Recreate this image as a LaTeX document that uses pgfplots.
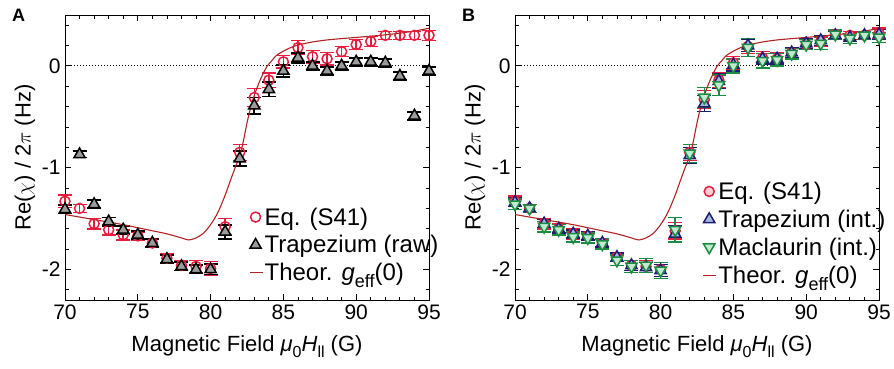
\documentclass[border=0pt]{standalone}
\usepackage{fontspec}
\setmainfont{Liberation Sans}
\usepackage{pgfplots}
\pgfplotsset{compat=1.18}
\usepackage{pgfplotstable}

\definecolor{cred}{RGB}{232,30,62}
\definecolor{tred}{RGB}{178,34,34}
\definecolor{tgray}{RGB}{155,155,155}
\definecolor{navy}{RGB}{28,28,112}
\definecolor{lblue}{RGB}{165,185,222}
\definecolor{cgreen}{RGB}{28,140,66}
\definecolor{lgreen}{RGB}{195,232,208}
\definecolor{lpink}{RGB}{250,205,215}

\newcommand\lf{\fontsize{24}{29}\selectfont}
\newcommand\sub[1]{\raisebox{-7pt}{\fontsize{18}{18}\selectfont #1}}

\pgfplotstableread{
x   c      ce    t      te
70 -1.33  0.06 -1.41  0.04
71 -1.40  0.04 -0.87  0.03
72 -1.55  0.05 -1.36  0.04
73 -1.61  0.05 -1.53  0.04
74 -1.66  0.05 -1.61  0.04
75 -1.67  0.04 -1.66  0.04
76 -1.74  0.04 -1.74  0.04
77 -1.89  0.04 -1.90  0.04
78 -1.96  0.05 -1.97  0.04
79 -1.97  0.06 -2.00  0.04
80 -1.99  0.07 -2.00  0.05
81 -1.58  0.08 -1.63  0.07
82 -0.85  0.08 -0.91  0.07
83 -0.31  0.09 -0.39  0.08
84 -0.14  0.07 -0.23  0.07
85  0.04  0.06 -0.05  0.06
86  0.18  0.07  0.08  0.05
87  0.09  0.06  0.00  0.04
88  0.07  0.06 -0.05  0.04
89  0.14  0.05  0.00  0.04
90  0.21  0.05  0.04  0.04
91  0.24  0.05  0.04  0.04
92  0.30  0.04  0.03  0.04
93  0.30  0.04 -0.10  0.04
94  0.30  0.04 -0.49  0.04
95  0.30  0.05 -0.05  0.04
}\dataA

\pgfplotstableread{
x   c      ce    b      be    g      ge
70 -1.33  0.05 -1.34  0.04 -1.36  0.05
71 -1.40  0.04 -1.40  0.04 -1.40  0.04
72 -1.55  0.05 -1.55  0.04 -1.58  0.05
73 -1.60  0.05 -1.60  0.04 -1.61  0.05
74 -1.65  0.05 -1.65  0.04 -1.68  0.05
75 -1.67  0.04 -1.67  0.04 -1.69  0.05
76 -1.74  0.04 -1.74  0.04 -1.75  0.05
77 -1.88  0.04 -1.88  0.04 -1.91  0.05
78 -1.96  0.05 -1.96  0.05 -1.97  0.06
79 -1.97  0.06 -1.98  0.05 -1.96  0.07
80 -2.00  0.07 -2.01  0.06 -2.01  0.08
81 -1.62  0.08 -1.65  0.08 -1.61  0.12
82 -0.85  0.08 -0.88  0.08 -0.86  0.09
83 -0.33  0.09 -0.37  0.08 -0.31  0.10
84 -0.14  0.07 -0.15  0.07 -0.19  0.10
85  0.03  0.06  0.01  0.06  0.00  0.07
86  0.19  0.07  0.20  0.06  0.18  0.09
87  0.08  0.06  0.07  0.05  0.05  0.07
88  0.07  0.06  0.07  0.05  0.06  0.06
89  0.13  0.05  0.13  0.05  0.12  0.05
90  0.21  0.05  0.22  0.05  0.21  0.05
91  0.24  0.05  0.25  0.05  0.22  0.06
92  0.31  0.04  0.30  0.04  0.31  0.05
93  0.30  0.04  0.28  0.04  0.27  0.05
94  0.30  0.04  0.30  0.04  0.30  0.04
95  0.32  0.05  0.31  0.05  0.28  0.05
}\dataB

\pgfplotstableread{
x     y
70   -1.46
71   -1.485
72   -1.51
73   -1.535
74   -1.56
75   -1.59
76   -1.62
77   -1.65
78   -1.69
78.5 -1.71
79   -1.69
79.5 -1.645
80   -1.56
80.5 -1.44
81   -1.27
81.5 -1.07
82   -0.88
82.25 -0.74
82.5 -0.56
82.75 -0.41
83   -0.29
83.4 -0.14
83.85 -0.01
84.2  0.05
84.5  0.10
85    0.145
85.5  0.18
86    0.205
87    0.235
88    0.255
89    0.268
90    0.28
91    0.292
92    0.305
93    0.322
94    0.342
95    0.37
}\theory

\pgfplotsset{
  legmark/.style={legend image code/.code={\draw[mark repeat=2,mark phase=2,##1] plot coordinates {(0pt,0pt) (7pt,0pt) (14pt,0pt)};}},
  legline/.style={legend image code/.code={\draw[##1] (1pt,0pt) -- (14pt,0pt);}},
  panel/.style={
    width=364pt, height=285pt, scale only axis,
    xmin=70, xmax=95, ymin=-2.3, ymax=0.5,
    xtick={70,75,80,85,90,95}, xticklabels={70,75,80,85,90,95},
    ytick={-2,-1,0}, yticklabels={-2,-1,0},
    minor x tick num=4, minor y tick num=4,
    extra y ticks={-2.2,0.2,0.4}, extra y tick labels={},
    extra y tick style={major tick length=3.5pt},
    tick align=inside, major tick length=6pt, minor tick length=3.5pt,
    axis line style={line width=1pt},
    every tick/.style={line width=0.8pt, black},
    ticklabel style={font=\fontsize{21}{23}\selectfont},
    xticklabel style={yshift=-1pt},
    yticklabel style={xshift=-1pt},
    label style={font=\fontsize{22}{24}\selectfont},
    xlabel={Magnetic Field \textit{μ}\raisebox{-6pt}{\fontsize{16}{16}\selectfont 0}\textit{H}\raisebox{-6pt}{\fontsize{16}{16}\selectfont ll} (G)},
    ylabel={Re($\chi$) / 2$\pi$ (Hz)},
    xlabel style={at={(axis description cs:0.5,-0.18)}, anchor=base},
    ylabel style={at={(axis description cs:-0.11,0.5)}, anchor=center},
    legend cell align=left,
    legend style={draw=none, fill=none, inner sep=0pt, row sep=6pt,
      font=\lf, nodes={inner sep=1.5pt}},
    clip=false,
  },
  ebar/.style={error bars/.cd, y dir=both, y explicit,
    error bar style={line width=1.5pt},
    error mark options={rotate=90, mark size=7pt, line width=1.5pt}},
}

\begin{document}
\begin{tikzpicture}
\path[use as bounding box] (0,0) rectangle (894pt,368pt);

\begin{axis}[panel, at={(65pt,68pt)}, anchor=south west,
  legend style={at={(axis description cs:0.505,0.33)}, anchor=north west}]
\addplot[black, dotted, line width=1pt, forget plot] coordinates {(70,0) (95,0)};
\addplot[only marks, legmark, cred, mark=o, mark size=5pt, line width=1.5pt,
  ebar] table[x=x, y=c, y error=ce] {\dataA};
\addlegendentry{\lf Eq. (S41)}
\addplot[only marks, legmark, black, mark=triangle*, mark size=6.5pt, line width=1.5pt,
  mark options={fill=tgray},
  error bars/.cd, y dir=both, y explicit,
  error bar style={line width=1.8pt},
  error mark options={rotate=90, mark size=7pt, line width=1.8pt}] table[x=x, y=t, y error=te] {\dataA};
\addlegendentry{\lf Trapezium (raw)}
\addplot[legline, color=tred, line width=1.1pt, smooth] table[x=x, y=y] {\theory};
\addlegendentry{\lf Theor. \textit{g}\sub{eff}(0)}
\end{axis}

\begin{axis}[panel, at={(515pt,68pt)}, anchor=south west,
  legend style={at={(axis description cs:0.515,0.42)}, anchor=north west}]
\addplot[black, dotted, line width=1pt, forget plot] coordinates {(70,0) (95,0)};
\addplot[only marks, legmark, cred, mark=*, mark size=5pt, line width=1.5pt,
  mark options={fill=lpink}, ebar] table[x=x, y=c, y error=ce] {\dataB};
\addlegendentry{\lf Eq. (S41)}
\addplot[only marks, legmark, navy, mark=triangle*, mark size=6.5pt, line width=1.5pt,
  mark options={fill=lblue}, ebar] table[x=x, y=b, y error=be] {\dataB};
\addlegendentry{\lf Trapezium (int.)}
\addplot[only marks, legmark, cgreen, mark=triangle*, mark size=6.5pt, line width=1.5pt,
  mark options={fill=lgreen, rotate=180}, ebar] table[x=x, y=g, y error=ge] {\dataB};
\addlegendentry{\lf Maclaurin (int.)}
\addplot[legline, color=tred, line width=1.1pt, smooth] table[x=x, y=y] {\theory};
\addlegendentry{\lf Theor. \textit{g}\sub{eff}(0)}
\end{axis}

\node[anchor=base west, inner sep=0pt, font=\bfseries\fontsize{18}{20}\selectfont] at (12pt,347pt) {A};
\node[anchor=base west, inner sep=0pt, font=\bfseries\fontsize{18}{20}\selectfont] at (462pt,347pt) {B};
\end{tikzpicture}
\end{document}
